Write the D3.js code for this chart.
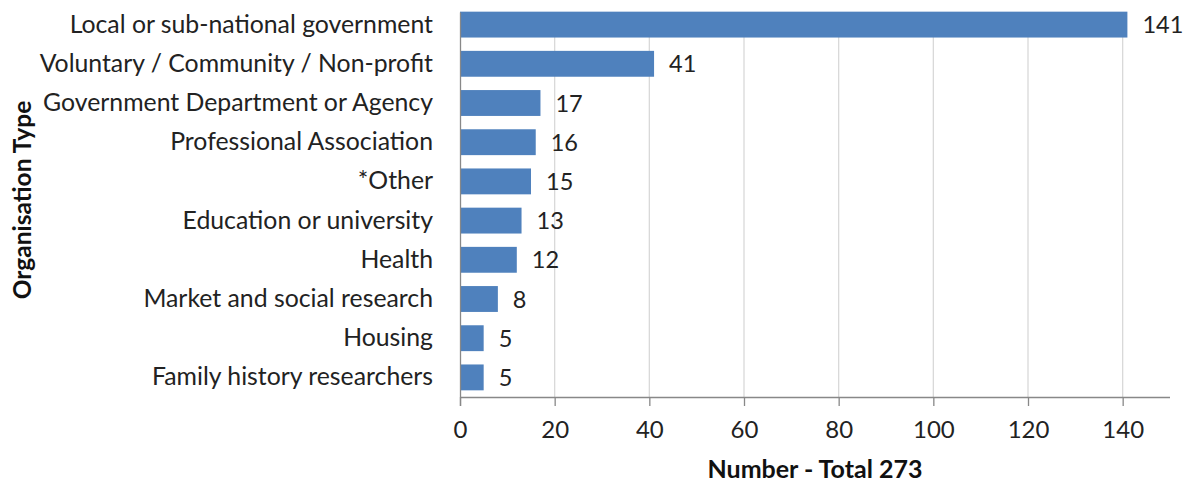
<!DOCTYPE html>
<html><head><meta charset="utf-8">
<script src="https://cdn.jsdelivr.net/npm/d3@7/dist/d3.min.js"></script>
<style>
body{margin:0;background:#fff;}
svg{display:block;font-family:Lato,"Open Sans",sans-serif;}
</style></head>
<body>
<svg id="chart" width="1189" height="482"></svg>
<script>
const categories = ["Local or sub-national government","Voluntary / Community / Non-profit","Government Department or Agency","Professional Association","*Other","Education or university","Health","Market and social research","Housing","Family history researchers"];
const values = [141,41,17,16,15,13,12,8,5,5];
const xTicks = [0,20,40,60,80,100,120,140];
const xTitle = "Number - Total 273";
const yTitle = "Organisation Type";

(function(){
const svg = d3.select("#chart");
const mLeft = 460, mRight = 1170, mTop = 5, mBottom = 397;
const x = d3.scaleLinear().domain([0,150]).range([mLeft,mRight]);
const y = d3.scaleBand().domain(categories).range([mTop,mBottom]).paddingInner(0.34).paddingOuter(0.17);

// gridlines
svg.append("g").selectAll("line").data(xTicks.slice(1)).join("line")
  .attr("x1",d=>x(d)).attr("x2",d=>x(d)).attr("y1",12.5).attr("y2",mBottom)
  .attr("stroke","#d9d9d9").attr("stroke-width",1.3);

// bars
svg.append("g").selectAll("rect").data(values).join("rect")
  .attr("x",x(0)).attr("y",(d,i)=>y(categories[i]))
  .attr("width",d=>x(d)-x(0)).attr("height",y.bandwidth())
  .attr("fill","#4f81bd");

// value labels
svg.append("g").selectAll("text").data(values).join("text")
  .attr("x",d=>x(d)+15).attr("y",(d,i)=>y(categories[i])+y.bandwidth()/2+8.5)
  .attr("font-size",23.5).attr("fill","#222").text(d=>d);

// x axis
const xa = svg.append("g").attr("transform",`translate(0,${mBottom})`)
  .call(d3.axisBottom(x).tickValues(xTicks).tickSize(9).tickPadding(15));
xa.select(".domain").attr("stroke","#888").attr("stroke-width",1.3).attr("d",`M${mLeft},0.5H${mRight}`);
xa.selectAll(".tick line").attr("stroke","#888").attr("stroke-width",1.3);
xa.selectAll(".tick text").attr("font-size",24).attr("font-family","Lato,sans-serif").attr("fill","#222");

// y axis
const ya = svg.append("g").attr("transform",`translate(${mLeft},0)`)
  .call(d3.axisLeft(y).tickSize(0).tickPadding(27));
ya.select(".domain").attr("d",`M0.5,12.5V${mBottom+9}`).attr("stroke","#888").attr("stroke-width",1.3);
ya.selectAll(".tick text").attr("font-size",24.8).attr("font-family","Lato,sans-serif").attr("fill","#222");

// titles
svg.append("text").attr("x",(mLeft+mRight)/2).attr("y",478).attr("text-anchor","middle")
  .attr("font-size",25).attr("font-weight","bold").attr("fill","#111").text(xTitle);
svg.append("text").attr("transform","translate(31,200) rotate(-90)").attr("text-anchor","middle")
  .attr("font-size",24.5).attr("font-weight","bold").attr("fill","#111").text(yTitle);
})();
</script>
</body></html>
